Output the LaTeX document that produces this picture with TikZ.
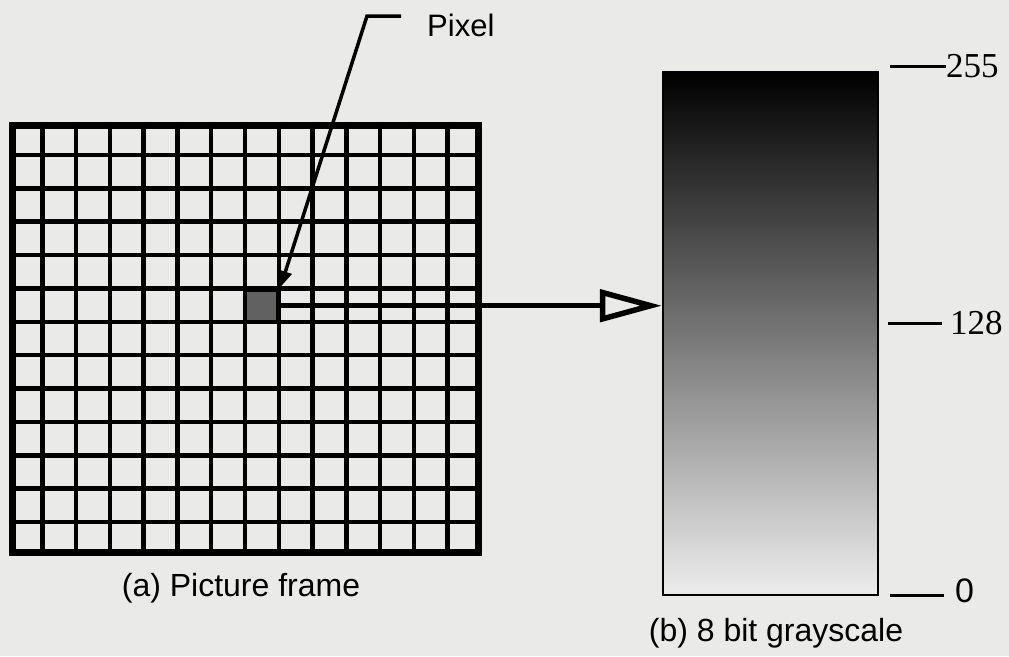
\documentclass[tikz,border=0pt]{standalone}
\usepackage{fontspec}
\setmainfont{Liberation Serif}
\setsansfont{Liberation Sans}
\usetikzlibrary{arrows.meta,calc,positioning}

\definecolor{paper}{RGB}{234,234,232}

\begin{document}
\begin{tikzpicture}[
    x=1pt, y=-1pt,
    frame/.style={draw, line width=7pt, minimum width=466pt, minimum height=427pt, inner sep=0pt},
    gridline/.style={line width=4.5pt},
    pixel/.style={draw, line width=4.5pt, fill=black!62, minimum width=33.3pt, minimum height=32.9pt, inner sep=0pt},
    bar/.style={draw, line width=2.5pt, minimum width=215pt, minimum height=523pt, inner sep=0pt,
        top color=black, middle color=black!68, bottom color=black!7},
    pointer/.style={-{Triangle[length=16pt,width=13pt]}, line width=3.5pt},
    bigarrow/.style={-{Triangle[open,length=62pt,width=32pt]}, line width=5.5pt},
    tick/.style={line width=3pt},
    value/.style={font=\fontsize{35}{40}\selectfont, inner sep=0pt},
    label/.style={font=\sffamily\fontsize{31}{36}\selectfont, inner sep=0pt},
    caption/.style={font=\sffamily\fontsize{32}{38}\selectfont, inner sep=0pt}
]

% Paper
\fill[paper] (0,0) rectangle (1009,656);
\useasboundingbox (0,0) rectangle (1009,656);

% Picture frame
\node[frame] (frame) at (245,338.5) {};
\foreach \i in {1,...,13}
    \draw[gridline] ($(frame.north west)!\i/14!(frame.north east)$) -- ($(frame.south west)!\i/14!(frame.south east)$);
\foreach \j in {1,...,12}
    \draw[gridline] ($(frame.north west)!\j/13!(frame.south west)$) -- ($(frame.north east)!\j/13!(frame.south east)$);

% Pixel
\node[pixel] (pix) at (261.6,305.7) {};
\node[label, anchor=west] (pxlabel) at (427,25) {Pixel};
\coordinate (pxend) at (401,16);
\coordinate (pxknee) at (367,16);
\draw[pointer] (pxend) -- (pxknee) -- (pix.north east);

% Grayscale bar
\node[bar] (bar) at (770.5,333.5) {};
\draw[bigarrow] (pix.east) -- (pix.east -| bar.west);

% Levels
\node[value, anchor=west] (l255) at (946,66) {255};
\node[value, anchor=west] (l128) at (950,323) {128};
\node[label, anchor=west, font=\sffamily\fontsize{34}{38}\selectfont] (l0) at (955,591) {0};
\coordinate (t255) at (890,66);
\coordinate (t128) at (888,323);
\coordinate (t0) at (890,595);
\draw[tick] (t255) -- (l255.west);
\draw[tick] (t128) -- ++(54,0);
\draw[tick] (t0) -- ++(54,0);

% Captions
\node[caption] (capa) at (241,588) {(a) Picture frame};
\node[caption] (capb) at (776,633) {(b) 8 bit grayscale};

\end{tikzpicture}
\end{document}
